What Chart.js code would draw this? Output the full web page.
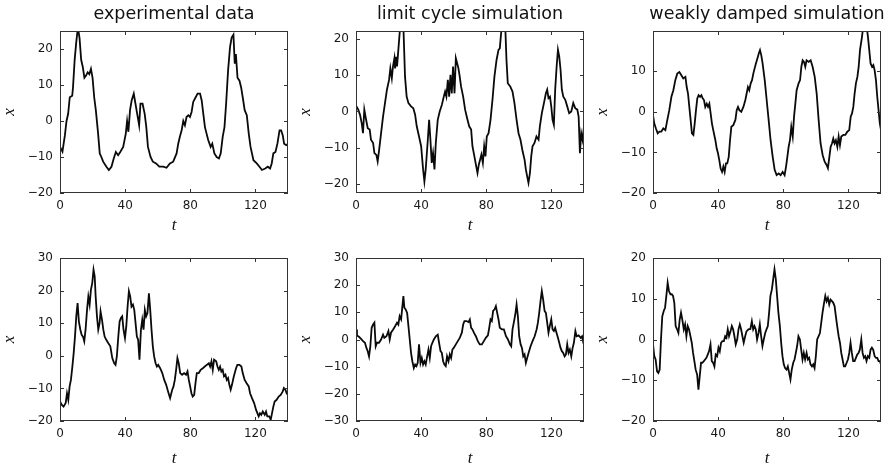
<!DOCTYPE html>
<html>
<head>
<meta charset="utf-8">
<script src="https://cdn.jsdelivr.net/npm/chart.js@4.4.1/dist/chart.umd.min.js"></script>
<style>
    html, body { margin: 0; padding: 0; background: #fff; overflow: hidden; }
    #wrap { position: relative; width: 891px; height: 468px; }
    #wrap canvas { position: absolute; }
</style>
</head>
<body>
<div id="wrap">
    <canvas id="c1" width="298" height="240" style="left:0px;top:0px"></canvas>
    <canvas id="c2" width="298" height="240" style="left:296px;top:0px"></canvas>
    <canvas id="c3" width="298" height="240" style="left:593px;top:0px"></canvas>
    <canvas id="c4" width="298" height="228" style="left:0px;top:240px"></canvas>
    <canvas id="c5" width="298" height="228" style="left:296px;top:240px"></canvas>
    <canvas id="c6" width="298" height="228" style="left:593px;top:240px"></canvas>
</div>
<script>
// Panel titles and axis labels
const titles = ['experimental data', 'limit cycle simulation', 'weakly damped simulation'];
const xTicks = [0, 40, 80, 120];

// Top row, experimental data
const expTopT = [0,1.5,3,4,5,6,7.5,8,9,10, 11,12,13,14,15,16,17,18,19,20, 21,22,23.4,24.4,25.4,26.5,28.5,30,31.6,33,
    34.3,35.7,37,38.8,40.4,41.2,42,43,44,45.3, 46,47.4,48.6,49.4,50.7,52,53,54,55.6,57, 59,61,63.4,65.4,67.5,69.5,71.6,72.6,73.6,74.7,
    75.7,76.7,77.7,78.8,79.8,80.8,81.8,83.3,84.5,86, 87,88,89,90,91,92.5,93.5,94.8,96.2,97.6, 98.7,99.9,101,102,103.2,104.4,105.4,106.5,107.3,108,
    109,110.2,111.2,112.2,113.4,114.7,115.9,117,118.8,120.8, 122.5,124,126,127.6,129,130,131,132.3,133.5,134.8, 135.8,136.8,137.6,138.9,140];
const expTopX = [-7.2,-8.5,-4,0,2,6.6,7,9.4,17,22, 26,23,17,15,12,12.6,13.5,13,14.5,12, 6.6,3,-3.5,-9,-10,-11.3,-12.7,-13.6,-12.7,-10.4,
    -8.6,-9.5,-8.6,-7.2,-3.5,0,-3,3,5.7,7.6, 5.7,2,-1.2,4.8,4.8,2,-1.7,-7.2,-10,-11.3, -11.8,-12.7,-12.7,-13,-11.8,-11.3,-9,-6.3,-4.4,-2.6,
    0,-1.2,1.1,1.6,1.1,2.5,5.3,6.6,7.6,7.6, 5.7,2,-1.7,-3.5,-5.3,-7.2,-6.3,-9,-10,-10.4, -9,-4.4,-1.7,4.8,14,20.5,23.2,24,15.9,18.6,
    12,11.2,9.4,6.6,3,1.6,-3.5,-7.2,-10.9,-11.8, -12.7,-13.6,-13.2,-12.7,-13.2,-11.8,-9,-8.6,-6.3,-2.6, -2.6,-4,-6.3,-6.7,-6.3];

// Top row, limit cycle simulation
const limTopT = [0,1.4,2.5,3.5,4.3,5.1,6,7.2,8.4,9.2, 10.5,11.3,12.5,13.3,14.1,15.4,16.6,17.8,19,20.3, 21.1,22,22.7,23.6,24,24.6,25.2,26,26.8,27.7,
    28.5,29.1,30.1,31.1,32.2,33.8,35.2,36.3,37.3,38.7, 40,41.2,42,42.8,44.1,44.9,45.7,46.5,47.3,48.2, 49,50.2,51.4,52.7,53.9,54.7,55.5,56.4,57.2,58,
    58.8,59.6,60.5,61.3,62.1,62.9,63.7,64.5,65.8,67, 68.2,69.5,70.7,71.5,72.7,73.8,74.6,75.4,76.2,77, 77.9,78.7,79.5,80.3,81.4,82.6,83.8,85,86.3,87.5,
    88.3,89.1,90.3,91.6,92.4,93.2,94.7,96.1,97.3,98.6, 99.8,101,102.3,103.5,104.3,105.1,105.9,106.8,107.6,108.4, 109.6,110.8,112.1,112.9,114.1,115.4,116.6,117.4,118.2,119.1,
    119.9,120.7,121.5,122.3,123.2,124,124.8,125.6,126.4,127.3, 128.5,129.7,130.9,132.2,133.4,134.6,135.9,136.7,137.5,138.3, 139.1,140];
const limTopX = [1.6,0.5,-1,-3.2,-6,0.5,-1.8,-4.6,-5,-7.8, -8.7,-11.5,-12,-13.8,-11,-6,-1.4,2.3,6,8.7, 11.9,9.2,12.4,14.7,11.9,15.1,12.4,17,21.6,25,
    26,23.5,9.6,4.1,2.3,1.4,0.9,-0.9,-4.1,-6.9, -9.6,-16,-19.3,-16,-7.8,-2.3,-7.8,-14.2,-11.5,-16, -8.7,-2.3,0,1.8,4.1,5.5,4.1,8.7,4.1,10.1,
    5,12.4,5,14.7,13.3,11.9,9.6,6.9,4.1,0.5, -1.8,-4.1,-5,-9.6,-12.4,-15.1,-17,-14.7,-13.3,-11.9, -14.2,-9.6,-12.4,-6.9,-6,-2.3,3.2,9.6,14.2,17,
    17.4,21.6,25,24,14.2,7.8,6.9,5.5,2.3,-2.3, -6,-7.8,-11,-13.3,-16,-17.9,-19.7,-17,-12.4,-9.6, -8.7,-6.9,-7.8,-4.1,-0.5,2.3,5,6,3.7,4.1,
    1.4,-2.3,-3.7,6,12.4,17,15.1,11.5,6,4.1, 3.2,1.4,-0.5,0,2.3,0.9,0.5,-1.4,-11.5,-6, -7.8,-4.1];

// Top row, weakly damped simulation
const weakTopT = [0,0.8,1.8,2.9,3.9,5.1,6.3,7.6,8.8,10, 11.3,12.5,13.7,14.9,16.2,17.4,18.6,19.9,20.7,21.5, 22.3,23.1,23.9,24.8,25.6,26.4,27.2,28,28.9,29.7,
    30.5,31.3,32.1,33,33.8,34.6,35.4,36.2,37,38.3, 39.1,39.9,40.7,41.5,42.4,43.2,44,44.8,45.6,46.5, 47.3,48.1,49.3,50.6,51.4,52.2,53,54.2,55.5,56.7,
    57.5,58.3,59.1,60,60.8,61.6,62.4,63.2,64.1,64.9, 65.7,66.5,67.3,68.6,69.8,71,72.2,73.5,74.7,75.9, 77.2,78.4,79.6,80.8,81.7,82.5,83.3,84.1,84.9,85.8,
    86.6,87.4,88.2,89.4,90.3,91.1,91.9,92.7,93.5,94.3, 95.6,96.8,98,99.3,100.5,101.7,102.9,104.2,105.4,106.6, 107.4,108.3,109.1,109.9,110.7,111.5,112.3,113.2,114,114.8,
    115.6,116.9,118.1,119.3,120.5,121.4,122.2,123,123.8,124.6, 125.5,126.3,127.1,128.3,129.1,130.2,131.2,132,132.8,133.6, 134.5,135.3,136.1,136.9,137.7,138.5,139.3,140];
const weakTopX = [-0.8,-2.9,-4.1,-5.3,-4.9,-4.9,-4.1,-4.5,-2,0.4, 3.7,5.3,7.8,9.4,9.8,9,8.2,8.6,6.1,4.5, 1.2,-2,-5.3,-5.7,-2.9,0.4,3.3,4.1,3.7,4.1,
    3.3,2.9,1.2,2,1.2,2,-0.4,-2.9,-4.5,-7, -9,-10.2,-11.9,-13.9,-14.8,-13.5,-14.8,-12.7,-12.7,-11.1, -7,-3.7,-3.3,-2,0.4,1.2,0.4,0,1.2,2.9,
    4.5,6.1,5.3,7,7.8,9.4,10.7,11.9,13.1,14.3, 15.2,13.9,11.9,7.8,2.9,-2,-7,-11.1,-14.3,-15.6, -15.2,-15.6,-14.8,-15.6,-13.5,-11.1,-8.6,-7,-3.7,-6.1,
    -1.2,2,5.3,7,7.8,11.1,12.7,12.3,11.1,12.7, 12.3,12.7,11.1,8.6,4.5,-2,-7.8,-10.7,-12.3,-13.1, -13.9,-11.1,-8.6,-7.8,-6.6,-7.8,-7,-8.6,-6.1,-8.2,
    -6.1,-5.7,-5.7,-4.9,-4.5,-1.2,-0.4,1.2,4.5,7, 8.6,11.1,15.2,18.4,21,22,21,18.4,15.2,11.9, 11.1,11.5,10.2,7.8,3.7,0.4,-2.9,-4.5];

// Bottom row, experimental data
const expBotT = [0,1,2.2,3.5,4.3,5.1,5.9,6.7,7.6,8.4, 9.2,10,10.8,11.6,12.5,13.3,14.1,14.9,15.7,16.6, 17.4,18.2,19,19.8,20.6,21.3,21.9,22.7,23.5,24.3,
    24.9,25.8,26.6,27.4,28.4,29.6,30.9,32.1,33.3,34.1, 34.9,35.8,36.6,37.4,38.2,39,39.9,40.7,41.5,42.3, 43.1,43.9,44.8,45.6,46.4,47.2,48,48.8,49.7,50.5,
    51.3,52.1,52.9,53.7,54.6,55.4,56.2,57,57.8,58.7, 59.5,60.3,61.5,62.8,64,65.2,66.4,67.6,68.9,69.7, 70.5,71.3,72.1,72.9,73.8,75,76.2,77.4,78.3,79.1,
    79.9,80.7,81.5,82.4,83.2,84,85.2,86.4,87.7,88.9, 90.1,91.4,92.2,93,93.8,94.6,95.9,96.7,97.5,98.3, 99.1,99.9,100.7,101.6,102.4,103.2,104,104.8,105.6,106.5,
    107.3,108.1,108.9,110.2,111.4,112.2,113.4,114.6,115.9,116.7, 117.9,119.2,120.4,121.2,122,122.8,123.6,124.5,125.7,126.5,
    127.3,128.5,129.4,130.2,131,131.8,133,134.3,135.5,136.7, 137.5,138.4,139.2,140];
const expBotX = [-14,-15,-15.6,-14.5,-11.5,-13.5,-9.4,-7.4,-3.3,0.8, 5.9,12.1,16.2,10.5,8,6.4,5.9,4.4,8,14.1, 18.2,15.7,20.3,22.3,26.4,24.4,18.2,12.1,8,10,
    13.6,11,8,5.9,4.9,3.9,2.9,-0.7,-2.3,-2.8, -0.2,5.9,10.5,11.6,12.1,8,5.4,9,15.1,19.8, 18.2,15.1,15.7,14.1,10,5.9,4.9,-1.2,8,11,
    8,14.1,12.1,13.1,19.2,14.1,8,2.9,-0.2,-2.3, -3.3,-2.8,-3.8,-5.3,-7.4,-8.9,-11,-13,-10.4,-9.4, -7.4,-4.3,-0.7,-2.3,-5.3,-5.8,-5.3,-5.8,-4.8,-7.4,
    -9.4,-11.5,-12.5,-12,-8.4,-5.3,-5.3,-4.3,-3.8,-3.3, -2.8,-2.3,-3.3,-1.7,-4.3,-1.2,-1.7,-3.3,-4.3,-3.3, -4.8,-4.3,-6.3,-5.8,-7.4,-6.8,-8.9,-10.4,-8.9,-6.8,
    -5.3,-3.8,-2.8,-2.8,-3.3,-5.3,-7.4,-8.4,-9.4,-11.5, -13,-14.5,-16.6,-17.6,-18.6,-17.6,-18.1,-17.1,-18.1,-17.1,
    -18.6,-18.6,-19.6,-17.6,-15.6,-14,-13.5,-12.5,-12,-11, -9.9,-10.4,-11.5,-12];

// Bottom row, limit cycle simulation
const limBotT = [0,0.6,1.8,3.1,4.3,5.5,6.4,7.2,8,8.8, 9.6,10.5,11.3,12.1,12.9,14.1,15.4,16.6,17.4,18.7, 19.9,20.7,21.5,22.8,24,25.2,26,26.8,27.7,28.5,
    29.1,29.7,30.5,31.4,32.2,33,33.8,34.6,35.5,36.3, 37.1,37.9,38.7,39.6,40.4,41.2,42,42.8,43.7,44.5, 45.3,46.1,46.9,47.8,49,50.2,51,51.9,52.7,53.5,
    54.3,55.1,55.9,56.8,57.6,58.4,59.2,60,61.3,62.5, 63.7,65,65.8,66.6,67.8,69.1,69.9,70.7,71.5,72.4, 73.6,74.8,76,77.3,78.5,79.7,81,81.8,82.6,83.4,
    84.2,85.1,85.9,86.7,87.5,88.3,89.6,90.8,92.1,93.3, 94.5,95.3,96.1,96.9,97.8,98.6,99.4,100.2,101.1,101.9, 102.7,103.5,104.3,105.1,106,107.2,108.4,109.7,110.9,111.7,
    112.5,113.3,114.1,114.9,115.8,116.6,117.4,118.2,119,119.9, 120.7,121.5,122.3,123.1,124,124.8,125.6,126.4,127.2,128.1,
    128.9,129.7,130.5,131.3,132.2,133,133.8,134.7,135.5,136.7, 138,138.8,139.6,140];
const limBotX = [3.7,1.5,1,0.2,-0.6,-1.2,-3.1,-4.3,-6.2,-2.5, 4.3,5.5,6.2,-2.5,-1.2,-1.2,0,1.8,0.6,1.2, 3.1,0,2.5,3.7,4.9,6.2,5.5,8.6,7.4,12.3,
    16,11.7,11.1,9.8,4.9,0,-4.9,-8,-10.5,-9.2, -9.8,-8.6,-1.8,-8.6,-6.8,-9.2,-8,-9.2,-6.2,-3.7, -6.8,-2.5,-1.2,0,1.2,1.8,-1.2,-4.3,-4.9,-8,
    -9.2,-9.8,-6.2,-8,-5.5,-6.8,-3.7,-3.1,-1.8,-0.6, 0.6,2.5,5.5,6.8,6.8,6.4,7.4,4.3,3.7,2.5, 1.2,-0.6,-1.8,-1.8,-0.6,0.6,1.5,4.3,7.4,6.8,
    10.5,11.1,12.3,9.8,7.4,4.3,3.7,3.7,1.2,0, -1.8,-2.5,3.7,6.2,9.2,12.9,8.6,1.2,-1.8,-3.1, -6.2,-5.5,-8.6,-6.8,-4.9,-2.5,-0.6,1.2,3.7,6.2,
    9.8,14.1,17.8,14.8,10.5,9.8,6.2,2.5,4.9,7.4, 3.7,3.1,4.3,2.5,0.6,-1.2,-3.1,-4.3,-4.9,-6.2,
    -5.5,-1.8,-4.9,-3.7,-6.2,-3.1,-1.2,3.1,1.2,1.5, 0.6,1.2,-1.2,-1.8];

// Bottom row, weakly damped simulation
const weakBotT = [0,0.8,1.6,2.5,3.3,4.1,4.9,5.7,6.6,7.4, 8.2,9,9.8,10.7,11.5,12.3,13.1,13.9,14.8,15.6, 16.4,17.2,18,18.9,19.7,20.5,21.3,22.1,23,23.8,
    24.6,25.4,26.2,27.1,27.9,28.7,29.5,30.3,31.2,32, 32.8,33.6,34.4,35.3,36.1,36.9,37.7,38.5,39.4,40.2, 41,41.8,42.6,43.5,44.3,45.1,45.9,46.7,47.6,48.4,
    49.2,50,50.8,51.7,52.5,53.3,54.1,54.9,55.7,56.6, 57.4,58.6,59.8,60.7,61.5,62.3,63.1,63.9,64.8,65.6, 66.4,67.2,68,68.9,69.7,70.5,71.3,72.1,73,73.8,
    74.6,75.4,76.2,77,77.9,78.7,79.5,80.3,81.1,82, 82.8,83.6,84.4,85.2,86.1,86.9,87.7,88.5,89.3,90.2, 91,91.8,92.6,93.4,94.3,95.1,95.9,96.7,97.6,98.4,
    99.2,100,100.8,101.7,102.5,103.3,104.1,104.9,105.8,106.6, 107.4,108.2,109,109.9,110.7,111.5,112.3,113.1,114,114.8,
    115.6,116.4,117.2,118,118.9,119.7,120.5,121.3,122.1,122.9, 123.8,124.6,125.4,126.2,127,127.9,128.7,129.5,130.3,131.1,
    131.9,132.8,133.6,134.4,135.2,136.1,136.9,137.7,138.5,139.3, 140];
const weakBotX = [-1.2,-4.1,-4.9,-7.8,-8.2,-7.4,0,5.7,7,7.8, 10.7,13.9,11.9,11.1,11.1,10.7,9,3.3,2.5,1.6, 4.9,6.6,4.9,2.5,3.7,0.8,3.3,2.5,0.8,-0.8,
    -3.3,-5.3,-7.4,-8.6,-12.3,-9,-5.7,-5.7,-5.3,-4.9, -4.5,-3.7,-2.9,-1.2,-5.3,-5.7,-6.6,-3.7,-4.1,-2, -2.9,-0.8,-0.4,-0.4,0.8,0.4,2.5,0.8,2,3.3,
    2.5,0.8,-1.2,0,2.5,3.7,2.5,0.8,-0.8,0.8, 2,2.5,2.6,4.5,2.5,3.3,2.5,0,1.6,3.7, 0.8,-1.6,0,1.6,2.5,3.3,6.6,10.7,12.3,14.8,
    17.2,14.8,10.7,6.6,3.3,-0.8,-4.1,-6.1,-7,-7.4, -6.6,-8.2,-9.8,-7.4,-5.7,-4.9,-3.3,-1.6,0.8,0, -2.5,-4.9,-3.3,-4.9,-3.3,-4.9,-4.5,-6.1,-6.6,-6.1,
    -7,-4.1,0,0.8,1.6,4.1,6.6,8.6,10.7,9.4, 10.2,8.6,9.8,9.4,9,8.2,5.7,3.3,0.8,-0.8,
    -3.3,-4.9,-6.6,-6.6,-5.7,-4.9,-3.3,-0.8,-3.3,-5.3, -5.3,-4.5,-3.7,-3.3,-2.5,0,-3.3,-4.5,-4.1,-5.3,
    -4.1,-4.5,-2.5,-2,-2.5,-4.1,-4.5,-4.5,-5.3,-5.3, -6.1];

// y-axis limits per panel
const yLimits = [[-20, 25], [-22.5, 22.2], [-20, 19.9], [-20, 30], [-30, 30], [-20, 20]];

Chart.defaults.font.family = '"DejaVu Sans", sans-serif';

// Draws the matplotlib-style frame, inward ticks and the panel title
const frameTicks = {
    id: 'frameTicks',
    afterDatasetsDraw(chart, args, opts) {
        const {ctx, chartArea: a, scales: {x, y}} = chart;
        ctx.save();
        ctx.strokeStyle = '#333';
        ctx.lineWidth = 1;
        ctx.beginPath();
        x.ticks.forEach(tk => {
            const px = Math.round(x.getPixelForValue(tk.value)) + 0.5;
            ctx.moveTo(px, a.bottom); ctx.lineTo(px, a.bottom - 4);
            ctx.moveTo(px, a.top); ctx.lineTo(px, a.top + 4);
        });
        y.ticks.forEach(tk => {
            const py = Math.round(y.getPixelForValue(tk.value)) + 0.5;
            ctx.moveTo(a.left, py); ctx.lineTo(a.left + 4, py);
            ctx.moveTo(a.right, py); ctx.lineTo(a.right - 4, py);
        });
        ctx.stroke();
        ctx.strokeRect(a.left + 0.5, a.top + 0.5, a.right - a.left - 1, a.bottom - a.top - 1);

        if (opts.title) {
            ctx.fillStyle = '#111';
            ctx.font = '17.5px "DejaVu Sans"';
            ctx.textAlign = 'center';
            ctx.textBaseline = 'alphabetic';
            ctx.fillText(opts.title, (a.left + a.right) / 2, 18.5);
        }
        ctx.restore();
    }
};

function makePanel(id, t, v, idx, title, topRow) {
    const [yMin, yMax] = yLimits[idx];
    const axisTitleFont = { family: '"Liberation Serif", "DejaVu Serif", serif', style: 'italic', size: 17, lineHeight: 1 };
    const tickFont = { size: 12 };

    return new Chart(document.getElementById(id), {
        type: 'line',
        data: {
            datasets: [{
                data: t.map((tt, i) => ({ x: tt, y: v[i] })),
                borderColor: '#0a0a0a',
                borderWidth: 1.8,
                pointRadius: 0,
                tension: 0,
                clip: 0
            }]
        },
        options: {
            responsive: false,
            animation: false,
            events: [],
            layout: { padding: { top: topRow ? 31 : 18, right: 10, bottom: 0, left: 0 } },
            plugins: {
                legend: { display: false },
                tooltip: { enabled: false },
                frameTicks: { title: title }
            },
            scales: {
                x: {
                    type: 'linear',
                    min: 0,
                    max: 140,
                    grid: { display: false, drawTicks: false },
                    border: { display: false },
                    afterBuildTicks: s => { s.ticks = xTicks.map(value => ({ value })); },
                    afterFit: s => { s.height = 47; },
                    ticks: { color: '#1a1a1a', font: tickFont, padding: 6, maxRotation: 0, autoSkip: false },
                    title: { display: true, text: 't', color: '#111', font: axisTitleFont,
                             padding: { top: 0, bottom: topRow ? 5.5 : 0.5 } }
                },
                y: {
                    type: 'linear',
                    min: yMin,
                    max: yMax,
                    grid: { display: false, drawTicks: false },
                    border: { display: false },
                    afterFit: s => { s.width = 60; },
                    ticks: {
                        stepSize: 10,
                        includeBounds: false,
                        color: '#1a1a1a',
                        font: tickFont,
                        padding: 7,
                        callback: val => String(val).replace('-', '\u2212')
                    },
                    title: { display: true, text: 'x', color: '#111', font: axisTitleFont,
                             padding: { top: 1.5, bottom: 0 } }
                }
            }
        },
        plugins: [frameTicks]
    });
}

makePanel('c1', expTopT, expTopX, 0, titles[0], true);
makePanel('c2', limTopT, limTopX, 1, titles[1], true);
makePanel('c3', weakTopT, weakTopX, 2, titles[2], true);
makePanel('c4', expBotT, expBotX, 3, null, false);
makePanel('c5', limBotT, limBotX, 4, null, false);
makePanel('c6', weakBotT, weakBotX, 5, null, false);
</script>
</body>
</html>
